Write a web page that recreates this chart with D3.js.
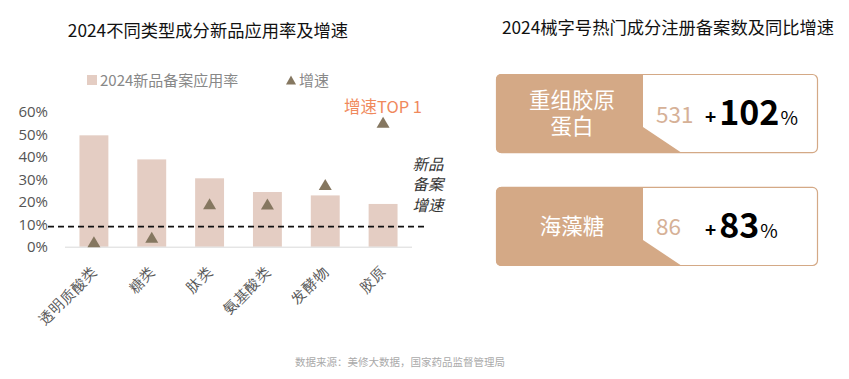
<!DOCTYPE html>
<html>
<head>
<meta charset="utf-8">
<script src="https://cdn.jsdelivr.net/npm/d3@7"></script>
<style>
  body { margin: 0; background: #fff; }
  svg { display: block; font-family: "Noto Sans CJK SC", "Noto Sans", sans-serif; }
</style>
</head>
<body>
<svg id="chart" width="849" height="379"></svg>
<script>
// left chart data
const categories = ['透明质酸类', '糖类', '肽类', '氨基酸类', '发酵物', '胶原'];
const rateValues = [0.495, 0.388, 0.304, 0.243, 0.228, 0.19];
const growthValues = [0.022, 0.042, 0.191, 0.19, 0.276, 0.553];
const avgGrowth = 0.089;
const yTicks = [0, 0.1, 0.2, 0.3, 0.4, 0.5, 0.6];

// right cards data
const cardNames = [['重组胶原', '蛋白'], ['海藻糖']];
const cardCounts = [531, 86];
const cardGrowth = [102, 83];

const barColor = '#e4cdc3';
const triColor = '#857760';
const tan = '#d4a986';

const svg = d3.select('#chart');

// titles
svg.append('text')
  .attr('x', 208).attr('y', 37)
  .attr('text-anchor', 'middle')
  .attr('font-size', 17.3).attr('fill', '#111')
  .text('2024不同类型成分新品应用率及增速');

svg.append('text')
  .attr('x', 668).attr('y', 33.5)
  .attr('text-anchor', 'middle')
  .attr('font-size', 17.3).attr('fill', '#111')
  .text('2024械字号热门成分注册备案数及同比增速');

// legend
const legend = svg.append('g');
legend.append('rect')
  .attr('x', 87).attr('y', 75).attr('width', 10).attr('height', 10)
  .attr('fill', barColor);
legend.append('text')
  .attr('x', 100).attr('y', 85.5)
  .attr('font-size', 15).attr('fill', '#888')
  .text('2024新品备案应用率');
legend.append('path')
  .attr('transform', 'translate(291,80)')
  .attr('d', 'M0,-4.5L5,4.5L-5,4.5Z')
  .attr('fill', triColor);
legend.append('text')
  .attr('x', 299).attr('y', 85.5)
  .attr('font-size', 15).attr('fill', '#888')
  .text('增速');

// scales
const x = d3.scaleBand()
  .domain(categories)
  .range([65, 412])
  .paddingInner(0.5)
  .paddingOuter(0.25);

const y = d3.scaleLinear()
  .domain([0, 0.6])
  .range([246.7, 111.7]);

// y axis labels
const yAxis = svg.append('g')
  .attr('transform', 'translate(48,0)')
  .call(d3.axisLeft(y).tickValues(yTicks).tickFormat(d3.format('.0%')).tickSize(0).tickPadding(0));
yAxis.select('.domain').remove();
yAxis.selectAll('text')
  .attr('font-size', 15).attr('fill', '#555')
  .attr('font-family', '"Open Sans", "Noto Sans", sans-serif');

// bars
svg.append('g')
  .selectAll('rect')
  .data(rateValues)
  .join('rect')
    .attr('x', (d, i) => x(categories[i]))
    .attr('y', d => y(d))
    .attr('width', x.bandwidth())
    .attr('height', d => y(0) - y(d))
    .attr('fill', barColor);

// baseline
svg.append('line')
  .attr('x1', 65).attr('x2', 412)
  .attr('y1', y(0) + 0.5).attr('y2', y(0) + 0.5)
  .attr('stroke', '#d9d9d9').attr('stroke-width', 1);

// x labels
const xAxis = svg.append('g')
  .attr('transform', `translate(0,${y(0)})`)
  .call(d3.axisBottom(x).tickSize(0).tickPadding(0));
xAxis.select('.domain').remove();
xAxis.selectAll('text')
  .attr('font-size', 14.5).attr('fill', '#555')
  .attr('text-anchor', 'end')
  .attr('dy', 0)
  .attr('transform', 'translate(4,26) rotate(-45)');

// average growth dashed line
svg.append('line')
  .attr('x1', 48).attr('x2', 425)
  .attr('y1', y(avgGrowth)).attr('y2', y(avgGrowth))
  .attr('stroke', '#111').attr('stroke-width', 1.8)
  .attr('stroke-dasharray', '6,4');

// growth triangles
svg.append('g')
  .selectAll('path')
  .data(growthValues)
  .join('path')
    .attr('transform', (d, i) => `translate(${x(categories[i]) + x.bandwidth() / 2},${y(d)})`)
    .attr('d', 'M0,-5.5L6.5,5.5L-6.5,5.5Z')
    .attr('fill', triColor);

// annotations
svg.append('text')
  .attr('x', 383).attr('y', 112.5)
  .attr('text-anchor', 'middle')
  .attr('font-size', 16.5).attr('fill', '#f0895c')
  .text('增速TOP 1');

const note = svg.append('text')
  .attr('font-size', 15.5).attr('fill', '#333')
  .attr('font-style', 'italic')
  .attr('text-anchor', 'middle');
['新品', '备案', '增速'].forEach((t, i) => {
  note.append('tspan').attr('x', 428).attr('y', 169.5 + i * 20.5).text(t);
});

// source
svg.append('text')
  .attr('x', 400).attr('y', 366)
  .attr('text-anchor', 'middle')
  .attr('font-size', 10.5).attr('fill', '#aaa')
  .text('数据来源：美修大数据，国家药品监督管理局');

// right cards
const cardY = d3.scaleBand()
  .domain(d3.range(cardNames.length))
  .range([74, 266])
  .paddingInner(0.3);

const cx0 = 496, cx1 = 818, r = 5;
const defs = svg.append('defs');
const h = cardY.bandwidth();

const cards = svg.append('g')
  .selectAll('g')
  .data(cardNames)
  .join('g')
    .attr('transform', (d, i) => `translate(0,${cardY(i)})`);

cards.each(function(d, i) {
  defs.append('clipPath').attr('id', 'cardclip' + i)
    .append('rect')
      .attr('x', cx0).attr('y', 0)
      .attr('width', cx1 - cx0).attr('height', h)
      .attr('rx', r);
});

cards.append('rect')
  .attr('x', cx0).attr('y', 0)
  .attr('width', cx1 - cx0).attr('height', h)
  .attr('rx', r)
  .attr('fill', '#fff');

cards.append('path')
  .attr('clip-path', (d, i) => `url(#cardclip${i})`)
  .attr('d', `M${cx0},0L643,0L643,${h - 26}L682,${h}L${cx0},${h}Z`)
  .attr('fill', tan);

cards.append('rect')
  .attr('x', cx0 + 0.5).attr('y', 0.5)
  .attr('width', cx1 - cx0 - 1).attr('height', h - 1)
  .attr('rx', r)
  .attr('fill', 'none')
  .attr('stroke', tan).attr('stroke-width', 1.2);

cards.each(function(d, i) {
  const g = d3.select(this);
  const top = h / 2 - (d.length - 1) * 12.8 + 7.5;
  d.forEach((line, j) => {
    g.append('text')
      .attr('x', 572).attr('y', top + j * 25.6)
      .attr('text-anchor', 'middle')
      .attr('font-size', 21.5).attr('fill', '#fff')
      .text(line);
  });

  g.append('text')
    .attr('x', 656).attr('y', h / 2 + 9)
    .attr('font-size', 22.5).attr('fill', '#d6b197')
    .text(cardCounts[i]);

  const v = g.append('text')
    .attr('x', 705).attr('y', h / 2 + 11.5)
    .attr('fill', '#000');
  v.append('tspan').attr('font-size', 19).attr('font-weight', 'bold').attr('dy', -1).text('+');
  v.append('tspan').attr('font-size', 34).attr('font-weight', 'bold').attr('dx', 3).attr('dy', 1).text(cardGrowth[i]);
  v.append('tspan').attr('font-size', 19).attr('dx', 1).text('%');
});
</script>
</body>
</html>
